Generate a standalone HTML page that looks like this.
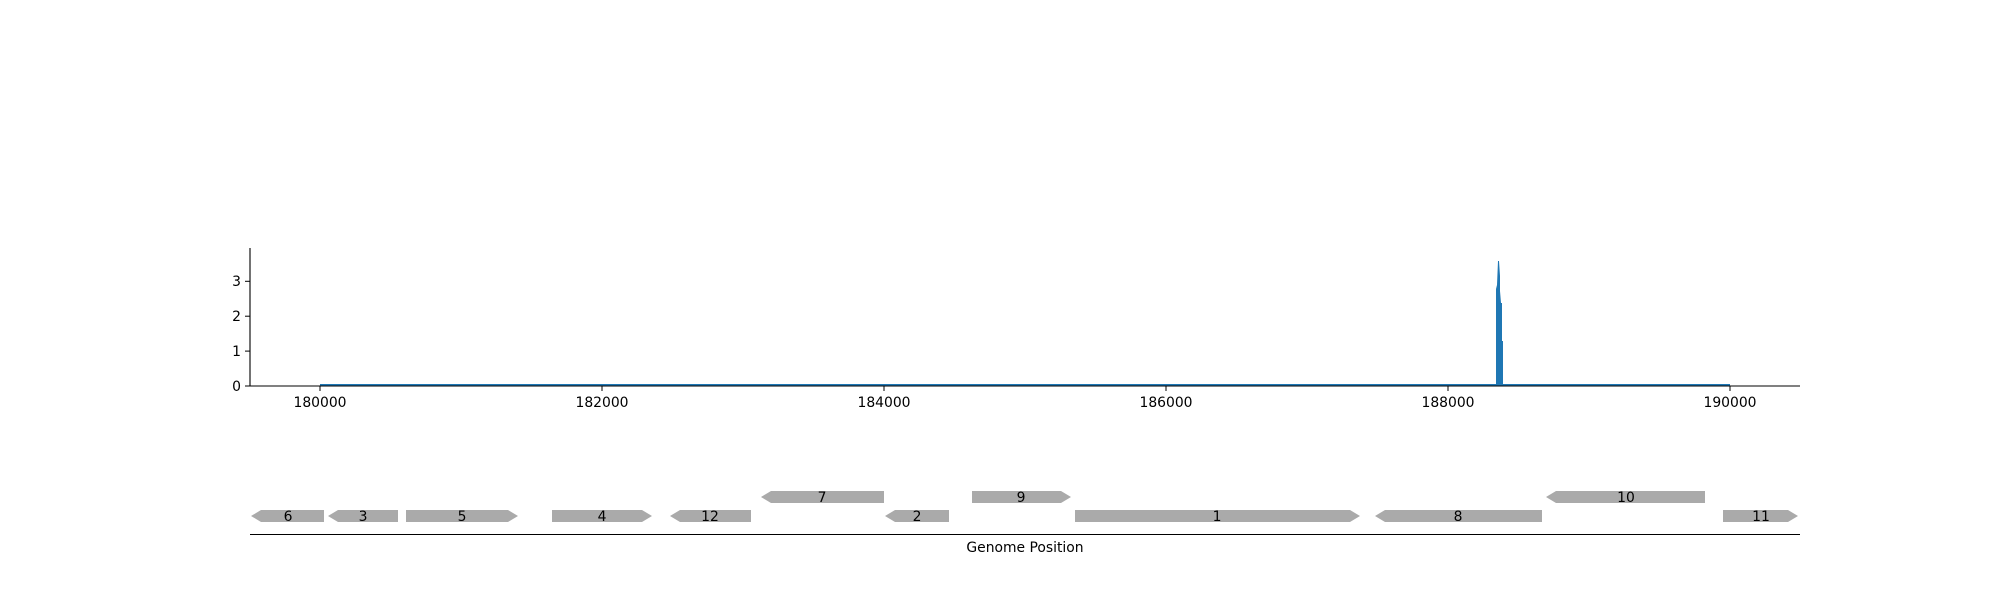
<!DOCTYPE html>
<html><head><meta charset="utf-8"><style>html,body{margin:0;padding:0;background:#fff}svg{display:block}text{font-family:"DejaVu Sans","Liberation Sans",sans-serif;font-size:13.9px;fill:#000}</style></head><body>
<svg width="2000" height="600" viewBox="0 0 2000 600" xmlns="http://www.w3.org/2000/svg">
<g transform="translate(0,1)">
<line x1="320" y1="384" x2="1730" y2="384" stroke="#1f77b4" stroke-width="2"/>
<polygon points="1496,385 1496,288 1497,284 1498,260 1499,260 1500,275 1500,290 1501,302 1502,302 1502,340 1503,340 1503,385" fill="#1f77b4"/>
<line x1="250" y1="247" x2="250" y2="385.5" stroke="#000" stroke-width="1.1"/>
<line x1="249.5" y1="385" x2="1800" y2="385" stroke="#000" stroke-width="1.1"/>
<g stroke="#000" stroke-width="1">
<line x1="245" y1="385" x2="250" y2="385"/><line x1="245" y1="350.1" x2="250" y2="350.1"/><line x1="245" y1="315.2" x2="250" y2="315.2"/><line x1="245" y1="280.3" x2="250" y2="280.3"/>
<line x1="320" y1="385" x2="320" y2="390"/><line x1="602" y1="385" x2="602" y2="390"/><line x1="884" y1="385" x2="884" y2="390"/><line x1="1166" y1="385" x2="1166" y2="390"/><line x1="1448" y1="385" x2="1448" y2="390"/><line x1="1730" y1="385" x2="1730" y2="390"/>
</g>
<g text-anchor="end">
<text x="241" y="390">0</text><text x="241" y="355">1</text><text x="241" y="320">2</text><text x="241" y="285">3</text>
</g>
<g text-anchor="middle">
<text x="320" y="406">180000</text><text x="602" y="406">182000</text><text x="884" y="406">184000</text><text x="1166" y="406">186000</text><text x="1448" y="406">188000</text><text x="1730" y="406">190000</text>
</g>
<g fill="#aaaaaa">
<polygon points="251,515 261,509 324,509 324,521 261,521"/>
<polygon points="328,515 338,509 398,509 398,521 338,521"/>
<polygon points="406,509 508,509 518,515 508,521 406,521"/>
<polygon points="552,509 642,509 652,515 642,521 552,521"/>
<polygon points="670,515 680,509 751,509 751,521 680,521"/>
<polygon points="761,496 771,490 884,490 884,502 771,502"/>
<polygon points="885,515 895,509 949,509 949,521 895,521"/>
<polygon points="972,490 1061,490 1071,496 1061,502 972,502"/>
<polygon points="1075,509 1350,509 1360,515 1350,521 1075,521"/>
<polygon points="1375,515 1385,509 1542,509 1542,521 1385,521"/>
<polygon points="1546,496 1556,490 1705,490 1705,502 1556,502"/>
<polygon points="1723,509 1788,509 1798,515 1788,521 1723,521"/>
</g>
<g text-anchor="middle">
<text x="288" y="520">6</text><text x="363" y="520">3</text><text x="462" y="520">5</text><text x="602" y="520">4</text><text x="710" y="520">12</text><text x="822" y="501">7</text><text x="917" y="520">2</text><text x="1021" y="501">9</text><text x="1217" y="520">1</text><text x="1458" y="520">8</text><text x="1626" y="501">10</text><text x="1761" y="520">11</text>
</g>
<line x1="250" y1="533.5" x2="1800" y2="533.5" stroke="#000" stroke-width="1.1"/>
<text x="1025" y="551" text-anchor="middle">Genome Position</text>
</g>
</svg>
</body></html>
